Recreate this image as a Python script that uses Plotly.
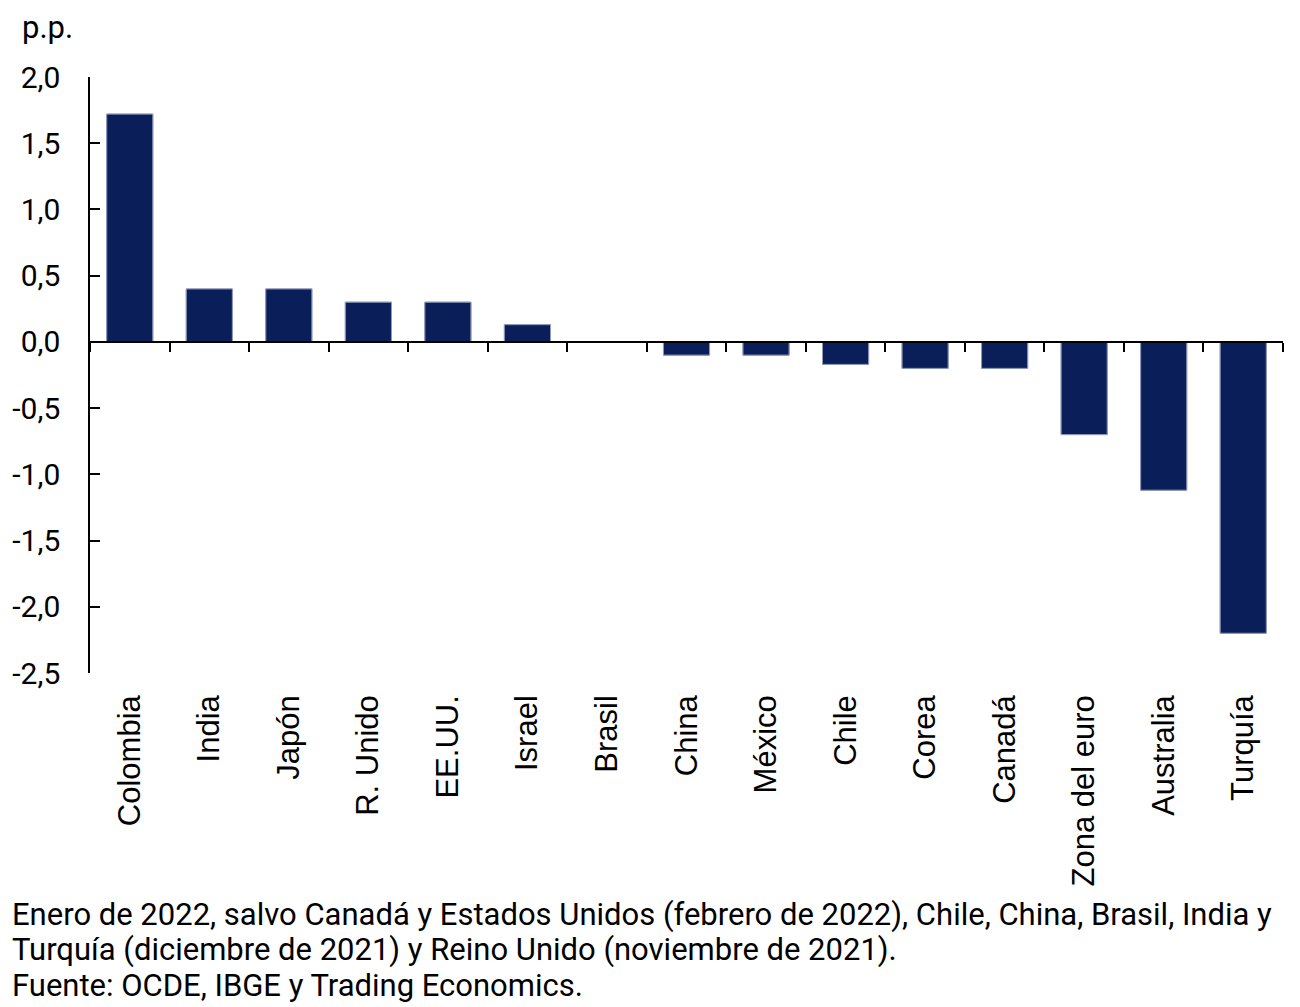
import plotly.graph_objects as go

categories = ["Colombia", "India", "Japón", "R. Unido", "EE.UU.", "Israel", "Brasil",
              "China", "México", "Chile", "Corea", "Canadá", "Zona del euro", "Australia", "Turquía"]
values = [1.72, 0.40, 0.40, 0.30, 0.30, 0.13, 0.0,
          -0.10, -0.10, -0.17, -0.20, -0.20, -0.70, -1.12, -2.20]
y_tickvals = [2.0, 1.5, 1.0, 0.5, 0.0, -0.5, -1.0, -1.5, -2.0, -2.5]
y_ticktext = ["2,0", "1,5", "1,0", "0,5", "0,0", "-0,5", "-1,0", "-1,5", "-2,0", "-2,5"]
unit_label = "p.p."
footnote_lines = [
    "Enero de 2022, salvo Canadá y Estados Unidos (febrero de 2022), Chile, China, Brasil, India y",
    "Turquía (diciembre de 2021) y Reino Unido (noviembre de 2021).",
    "Fuente: OCDE, IBGE y Trading Economics.",
]

BAR = "#0a1f5a"
FONT = "Roboto"

# page has an 8px body margin: plot area in page px is x 90..1283, y 77..673
L, R, T, B = 82, 25, 69, 342
PLOT_H = 1007 - T - B


def ypaper(page_y):
    return ((1007 - B) - (page_y - 8)) / PLOT_H


def xpaper(page_x):
    return ((page_x - 8) - L) / (1300 - L - R)


fig = go.Figure()
fig.add_trace(go.Bar(x=categories, y=values, marker=dict(color=BAR, line=dict(color="#3b4a7a", width=1)),
                     xaxis="x", yaxis="y", showlegend=False))
fig.add_trace(go.Bar(x=categories, y=values, marker=dict(color="rgba(0,0,0,0)"),
                     xaxis="x2", yaxis="y", showlegend=False, hoverinfo="skip"))

annotations = [
    dict(text=unit_label, xref="paper", yref="paper", x=xpaper(21), y=ypaper(8),
         xanchor="left", yanchor="top", showarrow=False, borderpad=0,
         font=dict(family=FONT, size=31, color="black")),
]
for i, line in enumerate(footnote_lines):
    annotations.append(dict(text=line, xref="paper", yref="paper", x=xpaper(10), y=ypaper(914 + 35.5 * i),
                            xanchor="left", yanchor="middle", align="left", showarrow=False,
                            font=dict(family=FONT, size=31, color="black")))

fig.update_layout(
    width=1300, height=1007,
    margin=dict(l=L, r=R, t=T, b=B, autoexpand=False),
    paper_bgcolor="white", plot_bgcolor="white",
    bargap=0.42,
    font=dict(family=FONT, size=30, color="black"),
    xaxis=dict(
        type="category", categoryorder="array", categoryarray=categories,
        range=[-0.5, len(categories) - 0.5],
        anchor="free", position=2.5 / 4.5,
        showline=True, linecolor="black", linewidth=2,
        ticks="outside", ticklen=9, tickwidth=2, tickcolor="black",
        tickson="boundaries", automargin=False,
        showticklabels=False, showgrid=False, zeroline=False,
    ),
    xaxis2=dict(
        type="category", categoryorder="array", categoryarray=categories,
        range=[-0.5, len(categories) - 0.5],
        overlaying="x", anchor="y", side="bottom",
        showline=False, ticks="", showgrid=False, zeroline=False,
        tickangle=-90, automargin=False,
        tickfont=dict(family="Liberation Sans, Arial", size=31, color="black"),
        ticklabelstandoff=15,
    ),
    yaxis=dict(
        range=[-2.5, 2.0],
        tickvals=y_tickvals, ticktext=y_ticktext,
        showline=True, linecolor="black", linewidth=1.5,
        ticks="inside", ticklen=10, tickwidth=1.5, tickcolor="black",
        showgrid=False, zeroline=False, automargin=False,
        tickfont=dict(family=FONT, size=30, color="black"),
        ticklabelstandoff=22,
    ),
    annotations=annotations,
)

fig.write_html("out.html")
